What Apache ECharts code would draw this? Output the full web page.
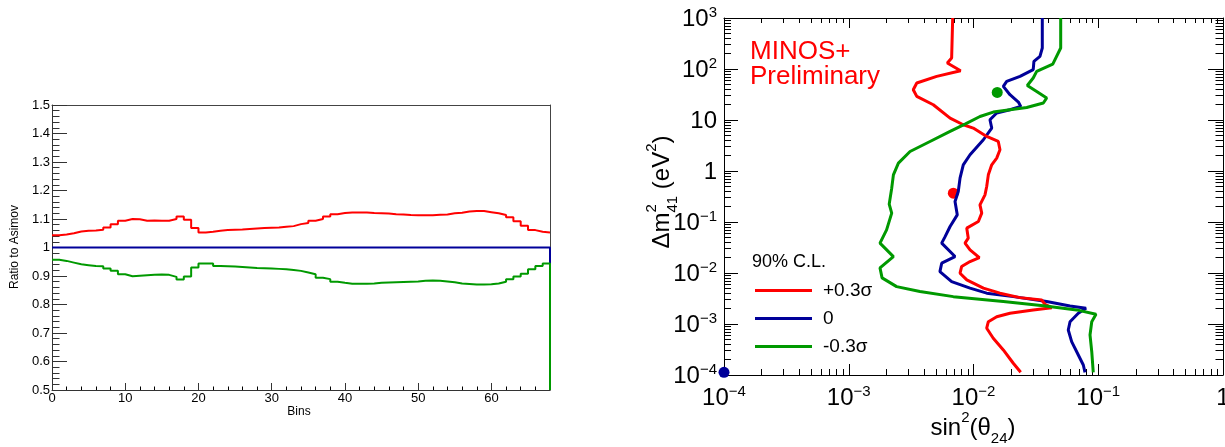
<!DOCTYPE html>
<html>
<head>
<meta charset="utf-8">
<script src="https://cdn.jsdelivr.net/npm/echarts@6/dist/echarts.min.js"></script>
<style>
  html, body { margin: 0; padding: 0; background: #fff; }
  #chart { width: 1225px; height: 447px; }
</style>
</head>
<body>
<div id="chart"></div>
<script>
// ---------- Left panel: ratio to Asimov, one value per bin (68 bins) ----------
const ratioPlus = [
  1.043, 1.046, 1.050, 1.056, 1.059, 1.060, 1.062, 1.070, 1.082, 1.094,
  1.100, 1.099, 1.094, 1.095, 1.094, 1.094, 1.100, 1.109, 1.097, 1.068,
  1.053, 1.055, 1.059, 1.061, 1.062, 1.063, 1.065, 1.067, 1.068, 1.069,
  1.070, 1.073, 1.075, 1.082, 1.086, 1.094, 1.100, 1.109, 1.117, 1.121,
  1.123, 1.123, 1.123, 1.121, 1.120, 1.119, 1.117, 1.116, 1.114, 1.113,
  1.113, 1.113, 1.115, 1.116, 1.120, 1.122, 1.126, 1.128, 1.128, 1.124,
  1.120, 1.114, 1.106, 1.092, 1.076, 1.061, 1.055, 1.053
];
const ratioNominal = [
  1, 1, 1, 1, 1, 1, 1, 1, 1, 1,
  1, 1, 1, 1, 1, 1, 1, 1, 1, 1,
  1, 1, 1, 1, 1, 1, 1, 1, 1, 1,
  1, 1, 1, 1, 1, 1, 1, 1, 1, 1,
  1, 1, 1, 1, 1, 1, 1, 1, 1, 1,
  1, 1, 1, 1, 1, 1, 1, 1, 1, 1,
  1, 1, 1, 1, 1, 1, 1, 1
];
const ratioMinus = [
  0.957, 0.953, 0.947, 0.941, 0.938, 0.935, 0.934, 0.926, 0.918, 0.906,
  0.899, 0.901, 0.903, 0.904, 0.905, 0.904, 0.897, 0.888, 0.898, 0.930,
  0.944, 0.944, 0.935, 0.934, 0.933, 0.932, 0.930, 0.928, 0.927, 0.926,
  0.925, 0.924, 0.921, 0.918, 0.912, 0.906, 0.894, 0.889, 0.880, 0.876,
  0.873, 0.873, 0.873, 0.874, 0.876, 0.877, 0.878, 0.879, 0.880, 0.881,
  0.883, 0.884, 0.883, 0.881, 0.878, 0.874, 0.872, 0.870, 0.870, 0.871,
  0.874, 0.880, 0.889, 0.898, 0.908, 0.924, 0.935, 0.944
];
const binLabels = [0, 10, 20, 30, 40, 50, 60];

// ---------- Right panel: 90% C.L. contours (sin^2 theta24, dm^2_41 in eV^2) ----------
const plusSin2 = [
  0.00681, 0.00668, 0.00617, 0.00788, 0.00507, 0.00351, 0.00329, 0.00351, 0.00476, 0.00649,
  0.00828, 0.00995, 0.01276, 0.0158, 0.0163, 0.01535, 0.0140, 0.01315, 0.01276, 0.01236,
  0.01127, 0.01164, 0.01094, 0.00883, 0.00908, 0.00855, 0.00938, 0.01114, 0.00938, 0.00803,
  0.00780, 0.00883, 0.0120, 0.0163, 0.0236, 0.0352, 0.0374, 0.0424, 0.0301, 0.0196,
  0.01535, 0.01315, 0.01276, 0.0144, 0.01734, 0.02084, 0.0239
];
const plusDm2 = [
  1000, 164, 131, 92.6, 71.6, 53.1, 39.3, 29.0, 19.9, 10.9,
  8.07, 6.95, 4.75, 3.79, 2.61, 1.79, 1.32, 0.841, 0.497, 0.341,
  0.217, 0.149, 0.102, 0.0757, 0.0482, 0.0385, 0.0284, 0.0200, 0.01675, 0.01337,
  0.00991, 0.00733, 0.00504, 0.00402, 0.00329, 0.00296, 0.00244, 0.00209, 0.00189, 0.00163,
  0.00139, 0.00111, 0.000826, 0.000525, 0.00031, 0.00017, 0.000113
];
const nomSin2 = [
  0.0356, 0.0356, 0.0341, 0.0305, 0.0301, 0.0236, 0.01845, 0.01734, 0.0196, 0.0229,
  0.0239, 0.0196, 0.01535, 0.01355, 0.0140, 0.0120, 0.00938, 0.00828, 0.00780, 0.00755,
  0.00711, 0.00741, 0.00649, 0.00592, 0.00556, 0.00711, 0.00556, 0.00538, 0.00668, 0.00938,
  0.01276, 0.02084, 0.0386, 0.0594, 0.0798, 0.0692, 0.0594, 0.0575, 0.0612, 0.0692,
  0.0759, 0.0783
];
const nomDm2 = [
  1000, 258, 177, 141, 96.9, 71.6, 57.1, 45.6, 31.3, 22.5,
  18.5, 15.9, 13.7, 10.1, 6.95, 4.10, 2.08, 1.32, 0.726, 0.396,
  0.252, 0.138, 0.0815, 0.0518, 0.0385, 0.0210, 0.01556, 0.01064, 0.00678, 0.00504,
  0.00402, 0.00344, 0.00275, 0.00226, 0.00204, 0.00163, 0.00111, 0.000764, 0.000451, 0.000247,
  0.000157, 0.000113
];
const minusSin2 = [
  0.05, 0.05, 0.0432, 0.0321, 0.0301, 0.0270, 0.0321, 0.0386, 0.0363, 0.0267,
  0.0196, 0.0144, 0.01127, 0.00855, 0.00649, 0.00448, 0.0031, 0.00250, 0.00228, 0.00221,
  0.00211, 0.00221, 0.00201, 0.00178, 0.00228, 0.00178, 0.00185, 0.00242, 0.00372, 0.00689,
  0.01734, 0.0363, 0.0671, 0.0959, 0.0887, 0.0859, 0.0887, 0.0912
];
const minusDm2 = [
  1000, 258, 125, 89.7, 66.5, 47.6, 36.3, 27.0, 21.5, 17.6,
  15.9, 14.3, 11.7, 8.32, 5.96, 3.79, 2.41, 1.43, 0.841, 0.461,
  0.224, 0.149, 0.0702, 0.0385, 0.0210, 0.0126, 0.00802, 0.00541, 0.00432, 0.00344,
  0.00275, 0.00229, 0.00189, 0.00155, 0.00111, 0.00061, 0.000286, 0.000113
];
// best-fit points: +0.3σ, 0, -0.3σ
const bestSin2 = [0.00689, 0.0001, 0.0155];
const bestDm2 = [0.368, 0.000113, 34.8];

const sinTicks = [1e-4, 1e-3, 1e-2, 1e-1, 1];
const dmTicks = [1e-4, 1e-3, 1e-2, 1e-1, 1, 10, 100, 1000];
const seriesNames = ['+0.3σ', '0', '-0.3σ'];
const seriesColors = ['#ff0000', '#000099', '#009900'];

// ---------- helpers ----------
const FONT = 'Liberation Sans, Arial, Helvetica, sans-serif';

// histogram outline: value of bin i spans [i, i+1]
function histPoints(vals, dropTo) {
  const pts = vals.map((v, i) => [i, v]);
  pts.push([vals.length, vals[vals.length - 1]]);
  if (dropTo != null) pts.push([vals.length, dropTo]);
  return pts;
}
const zip = (xs, ys) => xs.map((x, i) => [x, ys[i]]);

// 2..9 x 10^e tick positions between two decades
function logMinor(eLo, eHi) {
  const out = [];
  for (let e = eLo; e < eHi; e++) {
    for (let k = 2; k <= 9; k++) out.push(+(k * Math.pow(10, e)).toPrecision(3));
  }
  return out;
}
const binMinor = [];
for (let b = 2; b < 68; b += 2) if (b % 10 !== 0) binMinor.push(b);

function powLabel(v, plainTen) {
  const e = Math.round(Math.log10(v));
  if (e === 0) return '{b|1}';
  if (e === 1 && plainTen) return '{b|10}';
  return '{b|10}{s|' + (e < 0 ? '\u2212' + (-e) : String(e)) + '}';
}
const labelRich = {
  b: { fontSize: 24, lineHeight: 26, verticalAlign: 'bottom', color: '#000', fontFamily: FONT },
  s: { fontSize: 15, verticalAlign: 'top', color: '#000', fontFamily: FONT }
};

const none = { show: false };
// an axis that only carries a frame line and/or a set of inward ticks
function tickOnly(grid, pos, type, min, max, vals, len, showLine, lineColor) {
  return {
    gridIndex: grid, type: type, min: min, max: max, position: pos,
    axisLine: { show: !!showLine, onZero: false, lineStyle: { color: lineColor || '#000', width: 1 } },
    axisTick: vals ? { show: true, inside: true, length: len, customValues: vals, lineStyle: { color: '#000', width: 1 } } : none,
    axisLabel: none, splitLine: none, minorTick: none, minorSplitLine: none
  };
}

const chart = echarts.init(document.getElementById('chart'), null, { renderer: 'canvas' });

const option = {
  animation: false,
  backgroundColor: '#fff',
  textStyle: { fontFamily: FONT },
  grid: [
    { left: 52, top: 105, width: 498, height: 285, outerBoundsMode: 'none', containLabel: false },
    { left: 724, top: 18, width: 499, height: 357, outerBoundsMode: 'none', containLabel: false }
  ],
  xAxis: [
    // left panel, bins
    {
      gridIndex: 0, type: 'value', min: 0, max: 68, position: 'bottom',
      axisLine: { show: true, onZero: false, lineStyle: { color: '#333', width: 1 } },
      axisTick: { show: true, inside: true, length: 7, customValues: binLabels, lineStyle: { color: '#333' } },
      axisLabel: { show: true, customValues: binLabels, fontSize: 13, color: '#000', margin: 2, fontFamily: FONT },
      splitLine: none, minorTick: none
    },
    tickOnly(0, 'bottom', 'value', 0, 68, binMinor, 3.5, false),
    tickOnly(0, 'top', 'value', 0, 68, null, 0, true, '#444'),
    // right panel, sin^2(theta24)
    {
      gridIndex: 1, type: 'log', logBase: 10, min: 1e-4, max: 1, position: 'bottom',
      axisLine: { show: true, onZero: false, lineStyle: { color: '#000', width: 1 } },
      axisTick: { show: true, inside: true, length: 11, customValues: sinTicks, lineStyle: { color: '#000' } },
      axisLabel: {
        show: true, customValues: sinTicks, margin: 9, showMinLabel: true, showMaxLabel: true,
        formatter: v => powLabel(v, false), rich: labelRich
      },
      splitLine: none, minorTick: none
    },
    tickOnly(1, 'bottom', 'log', 1e-4, 1, logMinor(-4, 0), 6, false),
    tickOnly(1, 'top', 'log', 1e-4, 1, sinTicks, 10, true),
    tickOnly(1, 'top', 'log', 1e-4, 1, logMinor(-4, 0), 5, false)
  ],
  yAxis: [
    // left panel, ratio
    {
      gridIndex: 0, type: 'value', min: 0.5, max: 1.5, interval: 0.1, position: 'left',
      axisLine: { show: true, onZero: false, lineStyle: { color: '#333', width: 1 } },
      axisTick: { show: true, inside: true, length: 15, lineStyle: { color: '#333' } },
      minorTick: { show: true, splitNumber: 5, length: 7.5, lineStyle: { color: '#333' } },
      axisLabel: { show: true, fontSize: 13, color: '#000', margin: 2, fontFamily: FONT, showMinLabel: true, showMaxLabel: true },
      splitLine: none, minorSplitLine: none
    },
    tickOnly(0, 'right', 'value', 0.5, 1.5, null, 0, true, '#444'),
    // right panel, dm^2_41
    {
      gridIndex: 1, type: 'log', logBase: 10, min: 1e-4, max: 1e3, position: 'left',
      axisLine: { show: true, onZero: false, lineStyle: { color: '#000', width: 1 } },
      axisTick: { show: true, inside: true, length: 14, customValues: dmTicks, lineStyle: { color: '#000' } },
      axisLabel: {
        show: true, customValues: dmTicks, margin: 7, showMinLabel: true, showMaxLabel: true,
        formatter: v => powLabel(v, true), rich: labelRich
      },
      splitLine: none, minorTick: none
    },
    tickOnly(1, 'left', 'log', 1e-4, 1e3, logMinor(-4, 3), 7, false),
    tickOnly(1, 'right', 'log', 1e-4, 1e3, dmTicks, 15, true),
    tickOnly(1, 'right', 'log', 1e-4, 1e3, logMinor(-4, 3), 7.5, false)
  ],
  legend: {
    data: seriesNames, orient: 'vertical', left: 750, top: 276,
    icon: 'rect', itemWidth: 57, itemHeight: 3, itemGap: 9, selectedMode: false,
    textStyle: { fontSize: 19, color: '#000', fontFamily: FONT, padding: [0, 0, 0, 6] }
  },
  graphic: [
    {
      type: 'text', x: 15, y: 247, rotation: Math.PI / 2,
      style: { text: 'Ratio to Asimov', fontSize: 12, fontFamily: FONT, fill: '#000',
               align: 'center', verticalAlign: 'middle', textAlign: 'center', textVerticalAlign: 'middle' }
    },
    {
      type: 'text', x: 299, y: 412,
      style: { text: 'Bins', fontSize: 12, fontFamily: FONT, fill: '#000',
               align: 'center', verticalAlign: 'middle', textAlign: 'center', textVerticalAlign: 'middle' }
    },
    {
      type: 'text', x: 750, y: 39,
      style: { text: 'MINOS+\nPreliminary', fontSize: 26, lineHeight: 25, fontFamily: FONT, fill: '#ff0000',
               align: 'left', verticalAlign: 'top', textAlign: 'left', textVerticalAlign: 'top' }
    },
    {
      type: 'text', x: 752, y: 262,
      style: { text: '90% C.L.', fontSize: 18, fontFamily: FONT, fill: '#000',
               align: 'left', verticalAlign: 'middle', textAlign: 'left', textVerticalAlign: 'middle' }
    },
    {
      type: 'text', x: 973, y: 410,
      style: {
        text: '{b|sin}{s|2}{b|(θ}{d|24}{b|)}', fontFamily: FONT, fill: '#000',
        align: 'center', verticalAlign: 'top', textAlign: 'center', textVerticalAlign: 'top',
        rich: {
          b: { fontSize: 24, lineHeight: 36, verticalAlign: 'middle', align: 'left', fill: '#000', fontFamily: FONT },
          s: { fontSize: 15, verticalAlign: 'top', align: 'left', fill: '#000', fontFamily: FONT },
          d: { fontSize: 15, verticalAlign: 'bottom', align: 'left', fill: '#000', fontFamily: FONT }
        }
      }
    },
    {
      type: 'text', x: 662, y: 192, rotation: Math.PI / 2,
      style: {
        text: '{b|Δm}{z|2}{d|41}{b| (eV}{s|2}{b|)}', fontFamily: FONT, fill: '#000',
        align: 'center', verticalAlign: 'middle', textAlign: 'center', textVerticalAlign: 'middle',
        rich: {
          b: { fontSize: 24, lineHeight: 36, verticalAlign: 'middle', align: 'left', fill: '#000', fontFamily: FONT },
          s: { fontSize: 15, verticalAlign: 'top', align: 'left', fill: '#000', fontFamily: FONT },
          z: { fontSize: 15, verticalAlign: 'top', align: 'left', width: 0, fill: '#000', fontFamily: FONT },
          d: { fontSize: 15, verticalAlign: 'bottom', align: 'left', fill: '#000', fontFamily: FONT }
        }
      }
    }
  ],
  series: [
    // left panel histograms
    {
      name: 'ratio 0', type: 'line', xAxisIndex: 0, yAxisIndex: 0, step: 'end',
      data: histPoints(ratioNominal, 0.5), symbol: 'none', silent: true,
      lineStyle: { color: seriesColors[1], width: 2 }, itemStyle: { color: seriesColors[1] }
    },
    {
      name: 'ratio -0.3σ', type: 'line', xAxisIndex: 0, yAxisIndex: 0, step: 'end',
      data: histPoints(ratioMinus, 0.5), symbol: 'none', silent: true,
      lineStyle: { color: seriesColors[2], width: 2 }, itemStyle: { color: seriesColors[2] }
    },
    {
      name: 'ratio +0.3σ', type: 'line', xAxisIndex: 0, yAxisIndex: 0, step: 'end',
      data: histPoints(ratioPlus), symbol: 'none', silent: true,
      lineStyle: { color: seriesColors[0], width: 2 }, itemStyle: { color: seriesColors[0] }
    },
    // right panel contours
    {
      name: seriesNames[1], type: 'line', xAxisIndex: 3, yAxisIndex: 2,
      data: zip(nomSin2, nomDm2), symbol: 'none', silent: true,
      lineStyle: { color: seriesColors[1], width: 3 }, itemStyle: { color: seriesColors[1] }
    },
    {
      name: seriesNames[0], type: 'line', xAxisIndex: 3, yAxisIndex: 2,
      data: zip(plusSin2, plusDm2), symbol: 'none', silent: true,
      lineStyle: { color: seriesColors[0], width: 3 }, itemStyle: { color: seriesColors[0] }
    },
    {
      name: seriesNames[2], type: 'line', xAxisIndex: 3, yAxisIndex: 2,
      data: zip(minusSin2, minusDm2), symbol: 'none', silent: true,
      lineStyle: { color: seriesColors[2], width: 3 }, itemStyle: { color: seriesColors[2] }
    },
    {
      name: 'best fit', type: 'scatter', xAxisIndex: 3, yAxisIndex: 2, clip: false, silent: true,
      symbolSize: 11,
      data: bestSin2.map((x, i) => ({ value: [x, bestDm2[i]], itemStyle: { color: seriesColors[i], opacity: 1 } }))
    }
  ]
};
chart.setOption(option);
</script>
</body>
</html>
